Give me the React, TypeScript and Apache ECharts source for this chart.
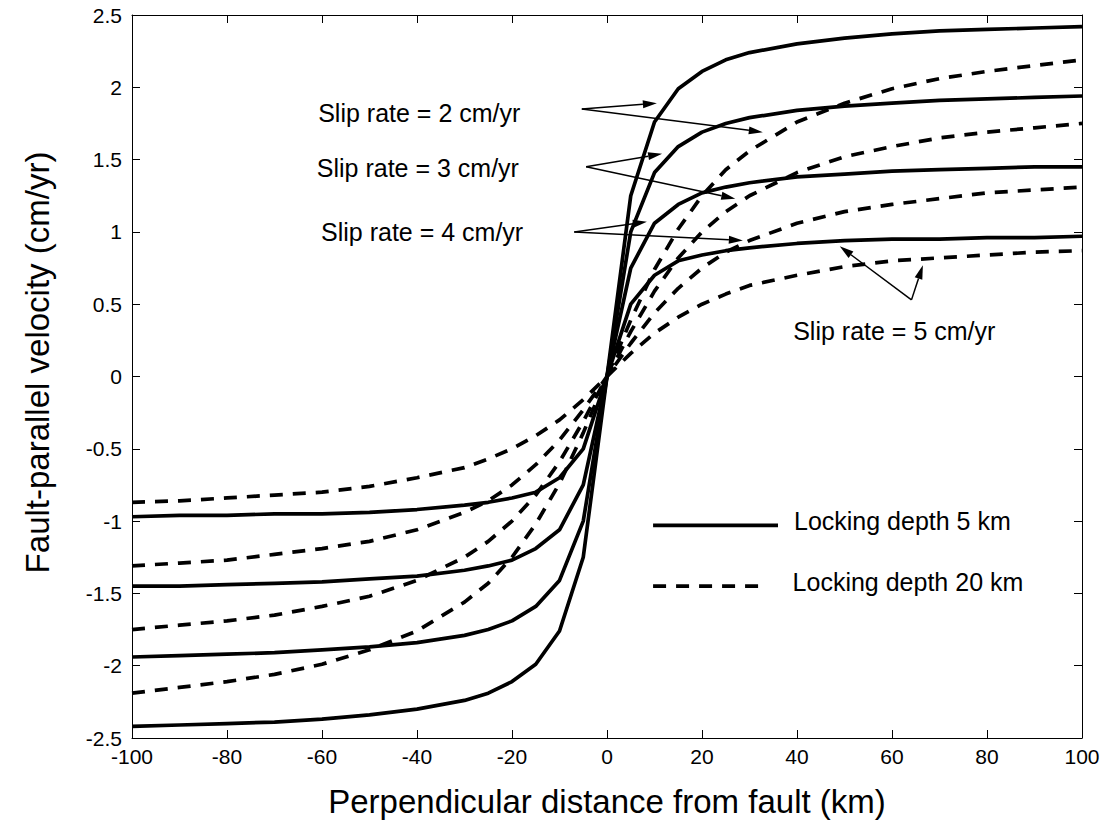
import { useEffect, useRef } from "react";
import * as echarts from "echarts";

// Perpendicular distance from the fault (km) at which every profile is sampled
const distanceKm = [
  -100, -90, -80, -70, -60, -50, -40, -30, -25, -20, -15, -10, -5, 0,
  5, 10, 15, 20, 25, 30, 40, 50, 60, 70, 80, 90, 100,
];

// Locking depth 5 km (solid), one profile per slip rate label
const shallow2 = [
  -2.42, -2.41, -2.4, -2.39, -2.37, -2.34, -2.3, -2.24, -2.19, -2.11, -1.99, -1.76, -1.25, 0,
  1.25, 1.76, 1.99, 2.11, 2.19, 2.24, 2.3, 2.34, 2.37, 2.39, 2.4, 2.41, 2.42,
];
const shallow3 = [
  -1.94, -1.93, -1.92, -1.91, -1.89, -1.87, -1.84, -1.79, -1.75, -1.69, -1.59, -1.41, -1.0, 0,
  1.0, 1.41, 1.59, 1.69, 1.75, 1.79, 1.84, 1.87, 1.89, 1.91, 1.92, 1.93, 1.94,
];
const shallow4 = [
  -1.45, -1.45, -1.44, -1.43, -1.42, -1.4, -1.38, -1.34, -1.31, -1.27, -1.19, -1.06, -0.75, 0,
  0.75, 1.06, 1.19, 1.27, 1.31, 1.34, 1.38, 1.4, 1.42, 1.43, 1.44, 1.45, 1.45,
];
const shallow5 = [
  -0.97, -0.96, -0.96, -0.95, -0.95, -0.94, -0.92, -0.89, -0.87, -0.84, -0.8, -0.7, -0.5, 0,
  0.5, 0.7, 0.8, 0.84, 0.87, 0.89, 0.92, 0.94, 0.95, 0.95, 0.96, 0.96, 0.97,
];

// Locking depth 20 km (dashed)
const deep2 = [
  -2.19, -2.15, -2.11, -2.06, -1.99, -1.89, -1.76, -1.56, -1.43, -1.25, -1.02, -0.74, -0.39, 0,
  0.39, 0.74, 1.02, 1.25, 1.43, 1.56, 1.76, 1.89, 1.99, 2.06, 2.11, 2.15, 2.19,
];
const deep3 = [
  -1.75, -1.72, -1.69, -1.65, -1.59, -1.52, -1.41, -1.25, -1.14, -1.0, -0.82, -0.59, -0.31, 0,
  0.31, 0.59, 0.82, 1.0, 1.14, 1.25, 1.41, 1.52, 1.59, 1.65, 1.69, 1.72, 1.75,
];
const deep4 = [
  -1.31, -1.29, -1.27, -1.23, -1.19, -1.14, -1.06, -0.94, -0.86, -0.75, -0.61, -0.44, -0.23, 0,
  0.23, 0.44, 0.61, 0.75, 0.86, 0.94, 1.06, 1.14, 1.19, 1.23, 1.27, 1.29, 1.31,
];
const deep5 = [
  -0.87, -0.86, -0.84, -0.82, -0.8, -0.76, -0.7, -0.63, -0.57, -0.5, -0.41, -0.3, -0.16, 0,
  0.16, 0.3, 0.41, 0.5, 0.57, 0.63, 0.7, 0.76, 0.8, 0.82, 0.84, 0.86, 0.87,
];

// Slip-rate callouts: label anchor (left, middle) and arrows, in data units
const slipLabels = [
  { text: "Slip rate = 2 cm/yr", at: [-60.8, 1.82] },
  { text: "Slip rate = 3 cm/yr", at: [-61.1, 1.44] },
  { text: "Slip rate = 4 cm/yr", at: [-60.2, 1.0] },
  { text: "Slip rate = 5 cm/yr", at: [39.2, 0.315] },
];
const slipArrows = [
  { from: [-5.3, 1.85], to: [[10.5, 1.89], [32.8, 1.69]] },
  { from: [-4.4, 1.45], to: [[11.6, 1.54], [27.0, 1.23]] },
  { from: [-6.9, 1.0], to: [[8.4, 1.07], [28.6, 0.94]] },
  { from: [64.1, 0.53], to: [[49.0, 0.9], [66.5, 0.77]] },
];

// Legend rows: line start/end x, y, label
const legendRows = [
  { text: "Locking depth 5 km", x0: 9.7, x1: 36.0, y: -1.03, dashed: false },
  { text: "Locking depth 20 km", x0: 9.7, x1: 33.6, y: -1.45, dashed: true },
];

const FONT = '"Liberation Sans", Arial, Helvetica, sans-serif';
const DASH = [13, 10];

export default function App() {
  const ref = useRef<HTMLDivElement>(null);

  useEffect(() => {
    const el = ref.current;
    if (!el) return;
    const chart = echarts.init(el, null, { renderer: "svg" });

    const pts = (ys: number[]) => distanceKm.map((x, i) => [x, ys[i]]);
    const curve = (name: string, ys: number[], dashed: boolean) => ({
      name,
      type: "line",
      data: pts(ys),
      symbol: "none",
      smooth: false,
      lineStyle: { color: "#000", width: 3.7, type: dashed ? DASH : "solid" },
      z: 3,
    });

    const axisLine = { show: true, onZero: false, lineStyle: { color: "#000", width: 1 } };
    const tick = { show: true, inside: true, length: 8, lineStyle: { color: "#000", width: 1 } };
    const label = { color: "#000", fontSize: 21, fontFamily: FONT };
    const titleStyle = { color: "#000", fontSize: 33, fontFamily: FONT };

    chart.setOption({
      animation: false,
      backgroundColor: "#fff",
      grid: { left: 132, right: 31, top: 15, bottom: 88, containLabel: false },
      xAxis: [
        {
          type: "value",
          min: -100,
          max: 100,
          interval: 20,
          position: "bottom",
          axisLine,
          axisTick: tick,
          axisLabel: { ...label, margin: 8 },
          splitLine: { show: false },
          name: "Perpendicular distance from fault (km)",
          nameLocation: "middle",
          nameGap: 47,
          nameTextStyle: titleStyle,
        },
        {
          type: "value",
          min: -100,
          max: 100,
          interval: 20,
          position: "top",
          axisLine,
          axisTick: tick,
          axisLabel: { show: false },
          splitLine: { show: false },
        },
      ],
      yAxis: [
        {
          type: "value",
          min: -2.5,
          max: 2.5,
          interval: 0.5,
          position: "left",
          axisLine,
          axisTick: tick,
          axisLabel: { ...label, margin: 10 },
          splitLine: { show: false },
          name: "Fault-parallel velocity (cm/yr)",
          nameLocation: "middle",
          nameGap: 78,
          nameTextStyle: { ...titleStyle, padding: [0, 0, 0, 28] },
        },
        {
          type: "value",
          min: -2.5,
          max: 2.5,
          interval: 0.5,
          position: "right",
          axisLine,
          axisTick: tick,
          axisLabel: { show: false },
          splitLine: { show: false },
        },
      ],
      series: [
        curve("5 km, 2 cm/yr", shallow2, false),
        curve("5 km, 3 cm/yr", shallow3, false),
        curve("5 km, 4 cm/yr", shallow4, false),
        curve("5 km, 5 cm/yr", shallow5, false),
        curve("20 km, 2 cm/yr", deep2, true),
        curve("20 km, 3 cm/yr", deep3, true),
        curve("20 km, 4 cm/yr", deep4, true),
        curve("20 km, 5 cm/yr", deep5, true),
      ],
    });

    const toPx = (p: number[]) =>
      chart.convertToPixel({ xAxisIndex: 0, yAxisIndex: 0 }, p) as number[];

    const graphics: any[] = [];
    const textFont = `25px ${FONT}`;

    slipLabels.forEach((l) => {
      const [x, y] = toPx(l.at);
      graphics.push({
        type: "text",
        x,
        y,
        z: 10,
        style: { text: l.text, font: textFont, fill: "#000", align: "left", verticalAlign: "middle" },
      });
    });

    const headLen = 14;
    const headHalf = 4;
    slipArrows.forEach((a) => {
      const [x0, y0] = toPx(a.from);
      a.to.forEach((t) => {
        const [x1, y1] = toPx(t);
        const dx = x1 - x0;
        const dy = y1 - y0;
        const len = Math.hypot(dx, dy);
        const ux = dx / len;
        const uy = dy / len;
        const bx = x1 - ux * headLen;
        const by = y1 - uy * headLen;
        graphics.push({
          type: "line",
          z: 10,
          shape: { x1: x0, y1: y0, x2: bx, y2: by },
          style: { stroke: "#000", lineWidth: 1.5 },
        });
        graphics.push({
          type: "polygon",
          z: 10,
          shape: {
            points: [
              [x1, y1],
              [bx - uy * headHalf, by + ux * headHalf],
              [bx + uy * headHalf, by - ux * headHalf],
            ],
          },
          style: { fill: "#000" },
        });
      });
    });

    legendRows.forEach((r) => {
      const [lx0, ly] = toPx([r.x0, r.y]);
      const [lx1] = toPx([r.x1, r.y]);
      graphics.push({
        type: "line",
        z: 10,
        shape: { x1: lx0, y1: ly, x2: lx1, y2: ly },
        style: { stroke: "#000", lineWidth: 3.7, lineDash: r.dashed ? DASH : null },
      });
      graphics.push({
        type: "text",
        x: lx1 + (r.dashed ? 26 : 16),
        y: ly - 4,
        z: 10,
        style: { text: r.text, font: textFont, fill: "#000", align: "left", verticalAlign: "middle" },
      });
    });

    chart.setOption({ graphic: graphics });

    return () => chart.dispose();
  }, []);

  return (
    <div
      ref={ref}
      style={{ position: "fixed", left: 0, top: 0, width: 1113, height: 826, background: "#fff" }}
    />
  );
}
